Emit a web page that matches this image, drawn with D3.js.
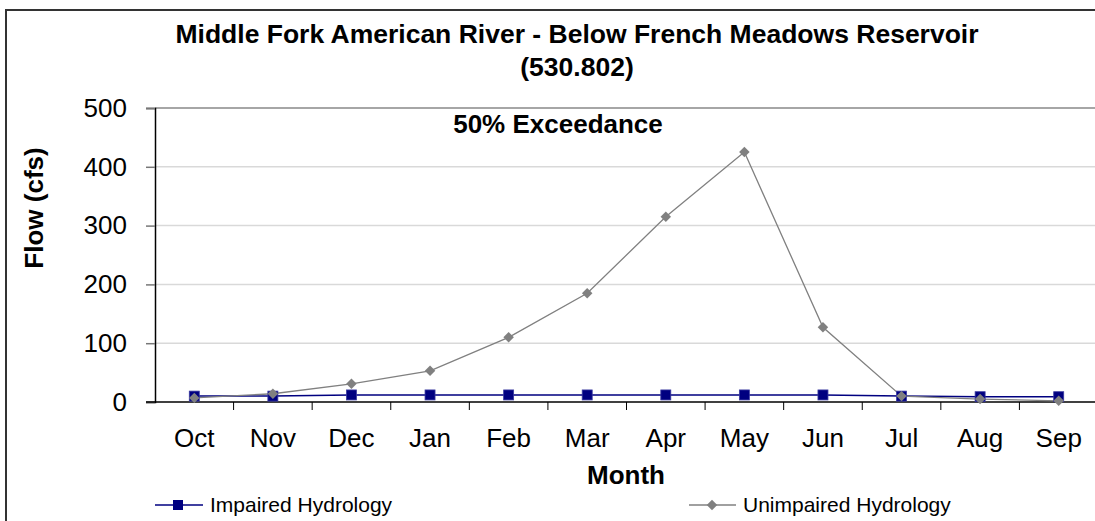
<!DOCTYPE html>
<meta charset="utf-8">
<body style="margin: unset; overflow: hidden; background: #fff">
<script src="https://d3js.org/d3.v7.min.js"></script>
<script>
    var months = ["Oct", "Nov", "Dec", "Jan", "Feb", "Mar", "Apr", "May", "Jun", "Jul", "Aug", "Sep"];
    var impaired = [10, 10, 12, 12, 12, 12, 12, 12, 12, 10, 9, 9];
    var unimpaired = [7, 14, 31, 53, 110, 185, 315, 425, 127, 10, 5, 2];
    var yTicks = [0, 100, 200, 300, 400, 500];

    var width = 1095, height = 521;
    var font = "'Liberation Sans', Arial, sans-serif";

    var svg = d3.select("body").append("svg")
        .attr("width", width).attr("height", height)
        .style("font-family", font);

    // outer chart border (right and bottom run off the picture)
    svg.append("rect")
        .attr("x", 6).attr("y", 10).attr("width", 1200).attr("height", 600)
        .attr("fill", "none").attr("stroke", "#333").attr("stroke-width", 2);

    var x = d3.scaleBand().domain(months).range([155, 1098]);
    var y = d3.scaleLinear().domain([0, 500]).range([402, 108]);

    // gridlines
    svg.append("g").selectAll("line").data(yTicks.filter(function (d) { return d > 0; }))
        .enter().append("line")
        .attr("x1", 155).attr("x2", width)
        .attr("y1", function (d) { return y(d); }).attr("y2", function (d) { return y(d); })
        .attr("stroke", function (d) { return d === 500 ? "#888" : "#d9d9d9"; })
        .attr("stroke-width", 1.5);

    // y axis
    var yAxis = svg.append("g").attr("transform", "translate(155,0)")
        .call(d3.axisLeft(y).tickValues(yTicks).tickSize(9).tickPadding(19));
    yAxis.select(".domain").attr("stroke", "#000").attr("stroke-width", 1.5);
    yAxis.selectAll(".tick line").attr("stroke", "#777").attr("stroke-width", 1.5);
    yAxis.selectAll("text").style("font-family", font).style("font-size", "26px").attr("fill", "#000");

    // x axis
    var xAxis = svg.append("g").attr("transform", "translate(0,402)")
        .call(d3.axisBottom(x).tickSize(0).tickPadding(27));
    xAxis.select(".domain").remove();
    xAxis.selectAll("text").style("font-family", font).style("font-size", "26px").attr("fill", "#000");
    svg.append("line").attr("x1", 146).attr("x2", width).attr("y1", 402).attr("y2", 402)
        .attr("stroke", "#000").attr("stroke-width", 1.5);
    svg.append("g").selectAll("line").data(months.slice(1).concat(["end"]))
        .enter().append("line")
        .attr("x1", function (d, i) { return x(months[0]) + x.step() * (i + 1); })
        .attr("x2", function (d, i) { return x(months[0]) + x.step() * (i + 1); })
        .attr("y1", 402).attr("y2", 410)
        .attr("stroke", "#000").attr("stroke-width", 1);

    var cx = function (d, i) { return x(months[i]) + x.bandwidth() / 2; };
    var line = d3.line().x(cx).y(function (d) { return y(d); });

    // series
    svg.append("path").datum(impaired).attr("d", line)
        .attr("fill", "none").attr("stroke", "#000080").attr("stroke-width", 1.5);
    svg.append("path").datum(unimpaired).attr("d", line)
        .attr("fill", "none").attr("stroke", "#808080").attr("stroke-width", 1.3);

    svg.append("g").selectAll("rect").data(impaired).enter().append("rect")
        .attr("x", function (d, i) { return cx(d, i) - 5; })
        .attr("y", function (d) { return y(d) - 5; })
        .attr("width", 10).attr("height", 10)
        .attr("fill", "#000080").attr("stroke", "#3a3aa0").attr("stroke-width", 0.8);

    var diamond = d3.symbol().type(d3.symbolDiamond2).size(70);
    svg.append("g").selectAll("path").data(unimpaired).enter().append("path")
        .attr("d", diamond)
        .attr("transform", function (d, i) { return "translate(" + cx(d, i) + "," + y(d) + ")"; })
        .attr("fill", "#808080");

    // titles
    svg.append("text").attr("x", 577).attr("y", 43).attr("text-anchor", "middle")
        .style("font-size", "26.5px").style("font-weight", "bold")
        .text("Middle Fork American River - Below French Meadows Reservoir");
    svg.append("text").attr("x", 577).attr("y", 76).attr("text-anchor", "middle")
        .style("font-size", "26.5px").style("font-weight", "bold")
        .text("(530.802)");
    svg.append("text").attr("x", 558).attr("y", 133).attr("text-anchor", "middle")
        .style("font-size", "26px").style("font-weight", "bold")
        .text("50% Exceedance");
    svg.append("text").attr("x", 626).attr("y", 484).attr("text-anchor", "middle")
        .style("font-size", "26px").style("font-weight", "bold")
        .text("Month");
    svg.append("text").attr("transform", "translate(43,208) rotate(-90)").attr("text-anchor", "middle")
        .style("font-size", "26px").style("font-weight", "bold")
        .text("Flow (cfs)");

    // legend
    var lg = svg.append("g");
    lg.append("line").attr("x1", 155).attr("x2", 203).attr("y1", 505).attr("y2", 505)
        .attr("stroke", "#000080").attr("stroke-width", 1.3);
    lg.append("rect").attr("x", 173).attr("y", 500).attr("width", 10).attr("height", 10)
        .attr("fill", "#000080");
    lg.append("text").attr("x", 210).attr("y", 512).style("font-size", "21px")
        .text("Impaired Hydrology");
    lg.append("line").attr("x1", 689).attr("x2", 736).attr("y1", 505).attr("y2", 505)
        .attr("stroke", "#808080").attr("stroke-width", 1.3);
    lg.append("path").attr("d", diamond).attr("transform", "translate(712,505)")
        .attr("fill", "#808080");
    lg.append("text").attr("x", 743).attr("y", 512).style("font-size", "21px")
        .text("Unimpaired Hydrology");
</script>
